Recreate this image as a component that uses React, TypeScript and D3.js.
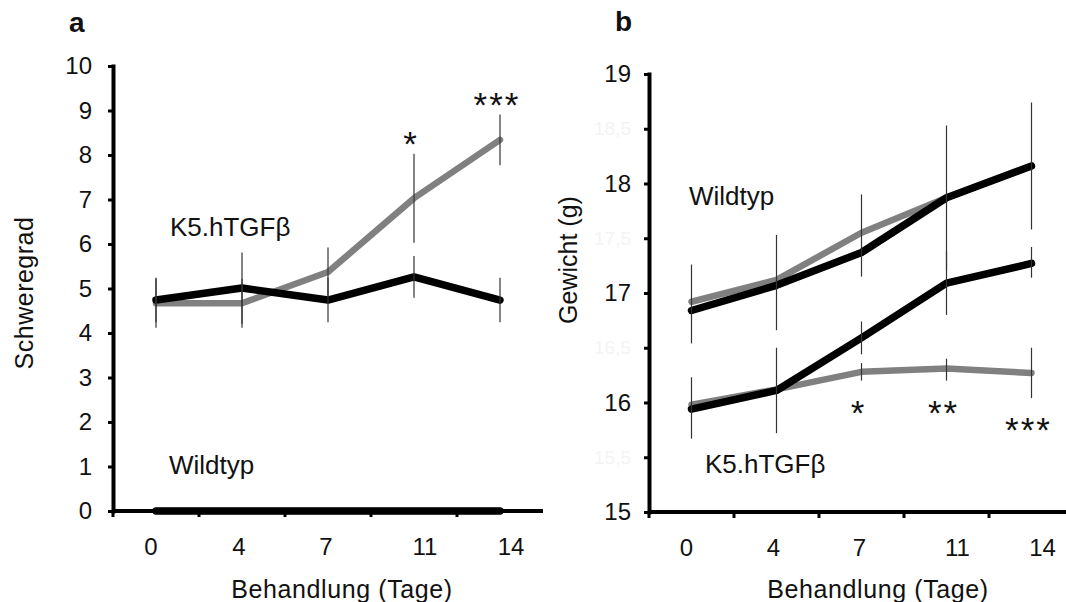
import { useEffect, useRef } from "react";
import * as d3 from "d3";

const W = 1066;
const H = 602;
const FONT = "'Liberation Sans', Arial, Helvetica, sans-serif";

// x categories (Behandlung, Tage)
const days = ["0", "4", "7", "11", "14"];
// small label nudges as in the original figure
const dayLabelShift = [-5, -3, -2, 11, 11];

// ── Panel a: Schweregrad ─────────────────────────────────────────────────────
const aTicks = [0, 1, 2, 3, 4, 5, 6, 7, 8, 9, 10];
const aK5Gray = [4.67, 4.67, 5.37, 7.03, 8.34];
const aK5GrayErr = [0.55, 0.55, 0.55, 1.0, 0.57];
const aK5Black = [4.74, 5.01, 4.74, 5.26, 4.74];
const aK5BlackErr = [0.5, 0.8, 0.5, 0.47, 0.5];
const aWildGray = [0, 0, 0, 0, 0];
const aWildBlack = [0, 0, 0, 0, 0];
const aStars = ["", "", "", "*", "***"];

// ── Panel b: Gewicht (g) ─────────────────────────────────────────────────────
const bTicks = [15, 15.5, 16, 16.5, 17, 17.5, 18, 18.5, 19];
const bWildGray = [16.92, 17.12, 17.55, 17.87, 18.16];
const bWildBlack = [16.84, 17.07, 17.37, 17.87, 18.16];
const bWildBlackLo = [16.54, 16.66, 17.15, 17.21, 17.58];
const bWildBlackHi = [17.26, 17.53, 17.9, 18.53, 18.74];
const bK5Gray = [15.98, 16.12, 16.28, 16.31, 16.27];
const bK5GrayLo = [15.98, 16.12, 16.2, 16.2, 16.04];
const bK5GrayHi = [15.98, 16.12, 16.36, 16.4, 16.5];
const bK5Black = [15.94, 16.11, 16.59, 17.09, 17.27];
const bK5BlackLo = [15.67, 15.72, 16.44, 16.8, 17.14];
const bK5BlackHi = [16.23, 16.5, 16.74, 17.38, 17.42];
const bStars = ["", "", "*", "**", "***"];

const GRAY = "#808080";
const BLACK = "#000";

type Series = { values: number[]; lo?: number[]; hi?: number[]; color: string; width: number };

function drawPanel(
  svg: d3.Selection<SVGSVGElement, unknown, null, undefined>,
  opt: {
    xRange: [number, number];
    yDomain: [number, number];
    yRange: [number, number];
    ticks: number[];
    tickPad: number;
    series: Series[];
  }
) {
  const x = d3.scaleBand<string>().domain(days).range(opt.xRange);
  const y = d3.scaleLinear().domain(opt.yDomain).range(opt.yRange);
  const cx = (i: number) => (x(days[i]) as number) + x.bandwidth() / 2;
  const g = svg.append("g");

  // lines (gray first, black on top)
  const line = d3.line<number>().x((_, i) => cx(i)).y(d => y(d));
  for (const s of opt.series) {
    g.append("path")
      .datum(s.values)
      .attr("d", line)
      .attr("fill", "none")
      .attr("stroke", s.color)
      .attr("stroke-width", s.width)
      .attr("stroke-linejoin", "round")
      .attr("stroke-linecap", "round");
  }

  // error bars (thin, no caps)
  for (const s of opt.series) {
    if (!s.lo || !s.hi) continue;
    s.values.forEach((_, i) => {
      if (s.hi![i] - s.lo![i] <= 0) return;
      g.append("line")
        .attr("x1", cx(i)).attr("x2", cx(i))
        .attr("y1", y(s.lo![i])).attr("y2", y(s.hi![i]))
        .attr("stroke", "#333").attr("stroke-width", 1.2);
    });
  }

  // y axis
  const fmt = (d: number) => (Number.isInteger(d) ? String(d) : String(d).replace(".", ","));
  const ya = svg.append("g")
    .attr("transform", `translate(${opt.xRange[0]},0)`)
    .call(d3.axisLeft(y).tickValues(opt.ticks).tickSize(5).tickSizeOuter(0).tickPadding(opt.tickPad).tickFormat(d => fmt(+d)));
  ya.select(".domain").attr("stroke", "#000").attr("stroke-width", 4).attr("stroke-linecap", "square");
  ya.selectAll(".tick line").attr("stroke", "#000").attr("stroke-width", 3);
  ya.selectAll<SVGTextElement, number>(".tick text")
    .attr("font-family", FONT)
    .attr("font-size", d => (Number.isInteger(d) ? 24 : 19))
    .attr("fill", d => (Number.isInteger(d) ? "#111" : "#f4f4f4"));

  // x axis
  const y0 = y(opt.yDomain[0]);
  svg.append("line")
    .attr("x1", opt.xRange[0]).attr("x2", opt.xRange[1])
    .attr("y1", y0).attr("y2", y0)
    .attr("stroke", "#000").attr("stroke-width", 4);
  days.forEach(d => {
    const tx = x(d) as number;
    svg.append("line")
      .attr("x1", tx).attr("x2", tx)
      .attr("y1", y0).attr("y2", y0 + 6)
      .attr("stroke", "#000").attr("stroke-width", 3);
  });
  days.forEach((d, i) => {
    svg.append("text")
      .attr("x", cx(i) + dayLabelShift[i])
      .attr("y", y0 + 44)
      .attr("text-anchor", "middle")
      .attr("font-family", FONT)
      .attr("font-size", 24)
      .attr("fill", "#111")
      .text(d);
  });

  return { x, y, cx };
}

function text(
  svg: d3.Selection<SVGSVGElement, unknown, null, undefined>,
  x: number, y: number, s: string, size: number, extra: Record<string, string | number> = {}
) {
  const t = svg.append("text")
    .attr("x", x).attr("y", y)
    .attr("font-family", FONT)
    .attr("font-size", size)
    .attr("fill", "#111")
    .text(s);
  Object.entries(extra).forEach(([k, v]) => t.attr(k, v));
  return t;
}

export default function App() {
  const ref = useRef<SVGSVGElement>(null);

  useEffect(() => {
    if (!ref.current) return;
    const svg = d3.select(ref.current);
    svg.selectAll("*").remove();

    // ── panel a ──
    const pa = drawPanel(svg, {
      xRange: [113, 543],
      yDomain: [0, 10],
      yRange: [511, 66],
      ticks: aTicks,
      tickPad: 16,
      series: [
        { values: aWildGray, color: GRAY, width: 6.5 },
        { values: aWildBlack, color: BLACK, width: 7.5 },
        { values: aK5Gray, lo: aK5Gray.map((v, i) => v - aK5GrayErr[i]), hi: aK5Gray.map((v, i) => v + aK5GrayErr[i]), color: GRAY, width: 6.5 },
        { values: aK5Black, lo: aK5Black.map((v, i) => v - aK5BlackErr[i]), hi: aK5Black.map((v, i) => v + aK5BlackErr[i]), color: BLACK, width: 7.5 },
      ],
    });
    aStars.forEach((s, i) => {
      if (!s) return;
      const top = pa.y(aK5Gray[i] + aK5GrayErr[i]);
      text(svg, pa.cx(i) - 3, top + 2, s, 35, { "text-anchor": "middle", "letter-spacing": 2 });
    });

    // ── panel b ──
    const pb = drawPanel(svg, {
      xRange: [649, 1074],
      yDomain: [15, 19],
      yRange: [512, 74],
      ticks: bTicks,
      tickPad: 13,
      series: [
        { values: bWildGray, color: GRAY, width: 6.5 },
        { values: bWildBlack, lo: bWildBlackLo, hi: bWildBlackHi, color: BLACK, width: 7.5 },
        { values: bK5Gray, lo: bK5GrayLo, hi: bK5GrayHi, color: GRAY, width: 6.5 },
        { values: bK5Black, lo: bK5BlackLo, hi: bK5BlackHi, color: BLACK, width: 7.5 },
      ],
    });
    bStars.forEach((s, i) => {
      if (!s) return;
      const bottom = pb.y(bK5GrayLo[i]);
      text(svg, pb.cx(i) - 3, bottom + 44, s, 35, { "text-anchor": "middle", "letter-spacing": 2 });
    });

    // panel letters
    text(svg, 69, 32, "a", 28, { "font-weight": 700 });
    text(svg, 615, 31, "b", 28, { "font-weight": 700 });

    // group labels
    text(svg, 170, 236, "K5.hTGFβ", 26);
    text(svg, 169, 474, "Wildtyp", 26);
    text(svg, 689, 205, "Wildtyp", 26);
    text(svg, 705, 473, "K5.hTGFβ", 26);

    // axis titles
    text(svg, 342, 598, "Behandlung (Tage)", 25, { "text-anchor": "middle", "letter-spacing": 0.6 });
    text(svg, 878, 598, "Behandlung (Tage)", 25, { "text-anchor": "middle", "letter-spacing": 0.6 });
    text(svg, 0, 0, "Schweregrad", 25, {
      "text-anchor": "middle",
      "letter-spacing": 0.5,
      transform: "translate(33,293) rotate(-90)",
    });
    text(svg, 0, 0, "Gewicht (g)", 25, {
      "text-anchor": "middle",
      transform: "translate(577,260) rotate(-90)",
    });
  }, []);

  return (
    <svg
      ref={ref}
      width={W}
      height={H}
      viewBox={`0 0 ${W} ${H}`}
      style={{ position: "absolute", left: 0, top: 0, background: "#fff", display: "block" }}
    />
  );
}
